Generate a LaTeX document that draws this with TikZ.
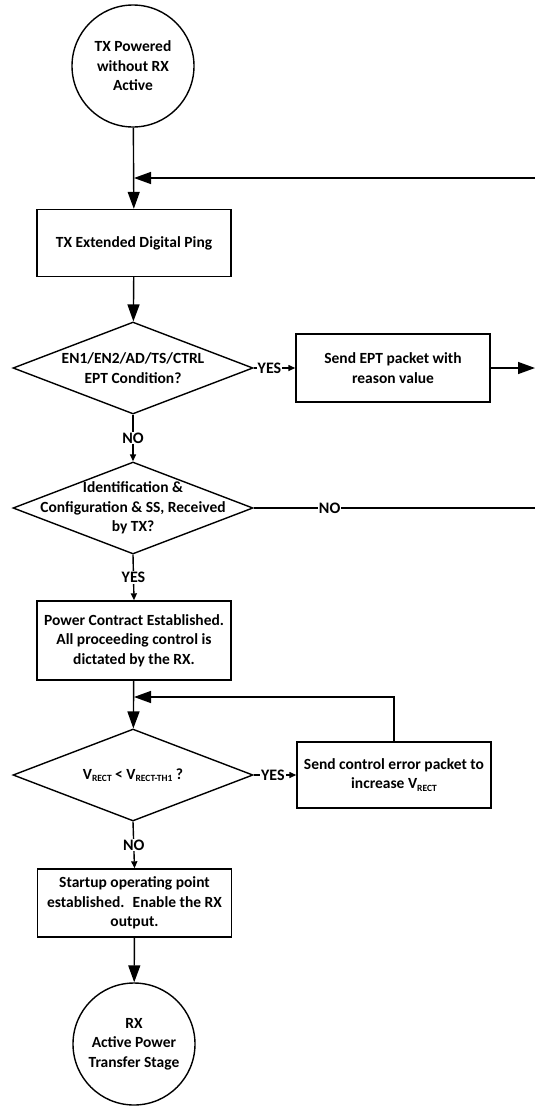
\documentclass[tikz,border=0pt]{standalone}
\usepackage{fontspec}
\setmainfont{Carlito}
\usetikzlibrary{arrows.meta}
\usetikzlibrary{shapes.geometric}

\newcommand{\lowsub}[1]{\raisebox{-0.35ex}{\fontsize{9.5}{9.5}\selectfont #1}}

\begin{document}
\begin{tikzpicture}[x=1pt,y=-1pt,line width=1.4pt,
		font=\bfseries\fontsize{15.5}{19.5}\selectfont,
		>={Triangle[length=17pt,width=12pt]},
		tip/.style={-{Triangle[length=7pt,width=6pt]}},
		terminal/.style={draw,circle,minimum size=122pt,inner sep=0pt,align=center},
		stepbox/.style={draw,rectangle,minimum width=194pt,inner sep=2pt,align=center},
		decision/.style={draw,diamond,minimum width=240pt,minimum height=92pt,inner sep=0pt},
		answer/.style={fill=white,inner sep=1pt,font=\bfseries\fontsize{16}{16}\selectfont}]
	\useasboundingbox (0,0) rectangle (535,1106);

	% main column
	\node[terminal] (start) at (133,66) {TX Powered\\without RX\\Active};
	\node[stepbox,minimum height=67pt] (ping) at (134,243) {TX Extended Digital Ping};
	\node[decision,label={[name=epttext,align=center]center:EN1/EN2/AD/TS/CTRL\\EPT Condition?}] (eptcond) at (133,368) {};
	\node[decision,label={[name=cfgtext,align=center]center:Identification \&\\Configuration \& SS, Received\\by TX?}] (cfgcond) at (133,508) {};
	\node[stepbox,minimum height=79pt] (contract) at (134,640.5) {Power Contract Established.\\All proceeding control is\\dictated by the RX.};
	\node[decision,label={[name=recttext]center:V\lowsub{RECT} < V\lowsub{RECT-TH1} ?}] (rectcond) at (133,775) {};
	\node[stepbox,minimum height=68pt] (startup) at (134.5,903) {Startup operating point\\established.~ Enable the RX\\output.};
	\node[terminal] (active) at (134,1044) {RX\\Active Power\\Transfer Stage};

	% side boxes
	\node[stepbox,minimum height=68pt] (eptsend) at (393,368) {Send EPT packet with\\reason value};
	\node[stepbox,minimum height=66pt] (errsend) at (394,775) {Send control error packet to\\increase V\lowsub{RECT}};

	% loose ends at the right edge, and the two joins
	\coordinate (pingloop) at (535,178);
	\coordinate (eptout) at (535,368);
	\coordinate (cfgout) at (535,508);
	\coordinate (join1) at (134,178);
	\coordinate (join2) at (134,697);

	\draw[->] (start) -- (ping);
	\draw[->] (pingloop) -- (join1);
	\draw[->] (ping) -- (eptcond);
	\draw[tip] (eptcond.east) -- node[answer,pos=0.38] (yes1) {YES} (eptsend.west);
	\draw[->] (eptsend) -- (eptout);
	\draw[tip] (eptcond.south) -- node[answer] (no1) {NO} (cfgcond.north);
	\draw (cfgcond.east) -- node[answer,pos=0.27] (no2) {NO} (cfgout);
	\draw[tip] (cfgcond.south) -- node[answer] (yes2) {YES} (contract.north);
	\draw[->] (contract) -- (rectcond);
	\draw[tip] (rectcond.east) -- node[answer,pos=0.45] (yes3) {YES} (errsend.west);
	\draw[->] (errsend.north) |- (join2);
	\draw[tip] (rectcond.south) -- node[answer] (no3) {NO} (startup.north);
	\draw[->] (startup) -- (active);
\end{tikzpicture}
\end{document}
